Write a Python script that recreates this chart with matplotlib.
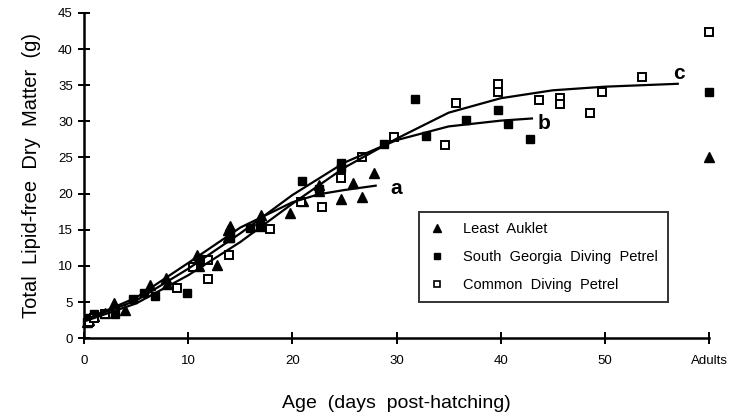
import matplotlib
matplotlib.use("Agg")
import matplotlib.pyplot as plt
from matplotlib.lines import Line2D

# ---- data ----
la_x = [0.3, 0.5, 1.0, 2.0, 2.9, 3.9, 6.3, 7.9, 8.0, 10.8, 10.8, 11.0, 12.8, 13.8, 13.8, 14.0,
        16.9, 16.9, 17.0, 19.8, 21.0, 22.6, 22.6, 24.7, 25.8, 26.7, 27.8]
la_y = [2.2, 2.5, 3.0, 3.5, 4.9, 3.9, 7.3, 8.3, 7.5, 11.5, 10.6, 10.0, 10.1, 14.9, 14.0, 15.5,
        16.3, 15.5, 17.0, 17.3, 19.0, 20.4, 21.2, 19.3, 21.5, 19.5, 22.8]
la_adult = 25.0

sg_x = [0.3, 0.5, 1.0, 3.0, 4.7, 5.8, 6.8, 9.9, 11.0, 11.0, 14.0, 14.0, 15.9, 16.9, 20.9,
        22.6, 24.7, 24.7, 28.8, 31.8, 32.8, 36.7, 39.7, 40.7, 42.8]
sg_y = [2.3, 2.8, 3.3, 3.4, 5.4, 6.2, 5.8, 6.2, 11.0, 10.5, 14.5, 13.8, 15.3, 15.8, 21.7,
        20.7, 24.2, 23.5, 26.9, 33.1, 28.0, 30.2, 31.6, 29.7, 27.5]
sg_adult = 34.1

cd_x = [0.5, 1.0, 2.0, 8.9, 10.5, 11.9, 11.9, 13.9, 17.9, 20.8, 22.8, 24.7, 26.7, 29.8, 34.7,
        35.7, 39.7, 39.7, 43.7, 45.7, 45.7, 48.6, 49.7, 53.6]
cd_y = [2.3, 2.8, 3.3, 7.0, 9.8, 10.8, 8.2, 11.5, 15.1, 18.9, 18.2, 22.1, 25.0, 27.9, 26.7,
        32.6, 35.2, 34.1, 33.0, 33.3, 32.4, 31.1, 34.0, 36.2]
cd_adult = 42.3

# fitted growth curves
curve_a_x = [0, 5, 10, 15, 20, 22.5, 25, 28]
curve_a_y = [2.5, 5.6, 10.4, 15.3, 18.8, 19.9, 20.5, 21.1]
curve_b_x = [0, 5, 10, 15, 20, 25, 30, 35, 40, 43]
curve_b_y = [2.5, 5.2, 9.6, 14.5, 19.8, 24.3, 27.4, 29.3, 30.1, 30.4]
curve_c_x = [0, 5, 10, 15, 20, 25, 30, 35, 40, 45, 50, 57]
curve_c_y = [2.3, 4.8, 8.7, 13.3, 18.6, 23.6, 27.6, 31.2, 33.2, 34.3, 34.8, 35.2]

x_ticks = [0, 10, 20, 30, 40, 50, 60]
x_labels = ["0", "10", "20", "30", "40", "50", "Adults"]
y_ticks = [0, 5, 10, 15, 20, 25, 30, 35, 40, 45]
ADULT_X = 60

plt.rcParams['font.family'] = ['Liberation Sans', 'DejaVu Sans']

fig = plt.figure(figsize=(7.37, 4.19), dpi=100)
ax = fig.add_axes([0.114, 0.193, 0.848, 0.776])

ms_tri = 6.5
ms_sq = 5.5
ax.plot(la_x + [ADULT_X], la_y + [la_adult], '^', color='black', ms=ms_tri, ls='none', clip_on=False)
ax.plot(sg_x + [ADULT_X], sg_y + [sg_adult], 's', color='black', ms=ms_sq, ls='none', clip_on=False)
ax.plot(cd_x + [ADULT_X], cd_y + [cd_adult], 's', mfc='white', mec='black', mew=1.4, ms=ms_sq,
        ls='none', clip_on=False)

for cx, cy in [(curve_a_x, curve_a_y), (curve_b_x, curve_b_y), (curve_c_x, curve_c_y)]:
    ax.plot(cx, cy, '-', color='black', lw=1.6)

ax.text(30.0, 20.7, 'a', fontsize=15, fontweight='bold', ha='center', va='center')
ax.text(44.2, 29.7, 'b', fontsize=15, fontweight='bold', ha='center', va='center')
ax.text(57.1, 36.6, 'c', fontsize=15, fontweight='bold', ha='center', va='center')

ax.set_xlim(0, 60)
ax.set_ylim(0, 45)
ax.set_xticks(x_ticks)
ax.set_xticklabels(x_labels)
ax.set_yticks(y_ticks)
for s in ['top', 'right']:
    ax.spines[s].set_visible(False)
for s in ['left', 'bottom']:
    ax.spines[s].set_linewidth(1.8)
ax.tick_params(axis='x', direction='inout', length=8, width=1.4, labelsize=9.5, pad=8)
ax.tick_params(axis='y', direction='inout', length=8, width=1.4, labelsize=9.5, pad=4)

ax.set_ylabel('Total  Lipid-free  Dry  Matter  (g)', fontsize=14.5, labelpad=12)
ax.set_xlabel('Age  (days  post-hatching)', fontsize=14, labelpad=20)

handles = [
    Line2D([], [], marker='^', color='black', ls='none', ms=5.5),
    Line2D([], [], marker='s', color='black', ls='none', ms=5),
    Line2D([], [], marker='s', mfc='white', mec='black', mew=1.2, ls='none', ms=5),
]
labels = ['Least  Auklet', 'South  Georgia  Diving  Petrel', 'Common  Diving  Petrel']
leg = ax.legend(handles, labels, loc='upper left', bbox_to_anchor=(0.525, 0.41),
                frameon=True, fancybox=False, edgecolor='black', fontsize=10.5,
                labelspacing=0.95, handletextpad=1.3, borderpad=0.7, handlelength=1.0)
leg.get_frame().set_linewidth(1.4)

fig.savefig('out.png', dpi=100)
